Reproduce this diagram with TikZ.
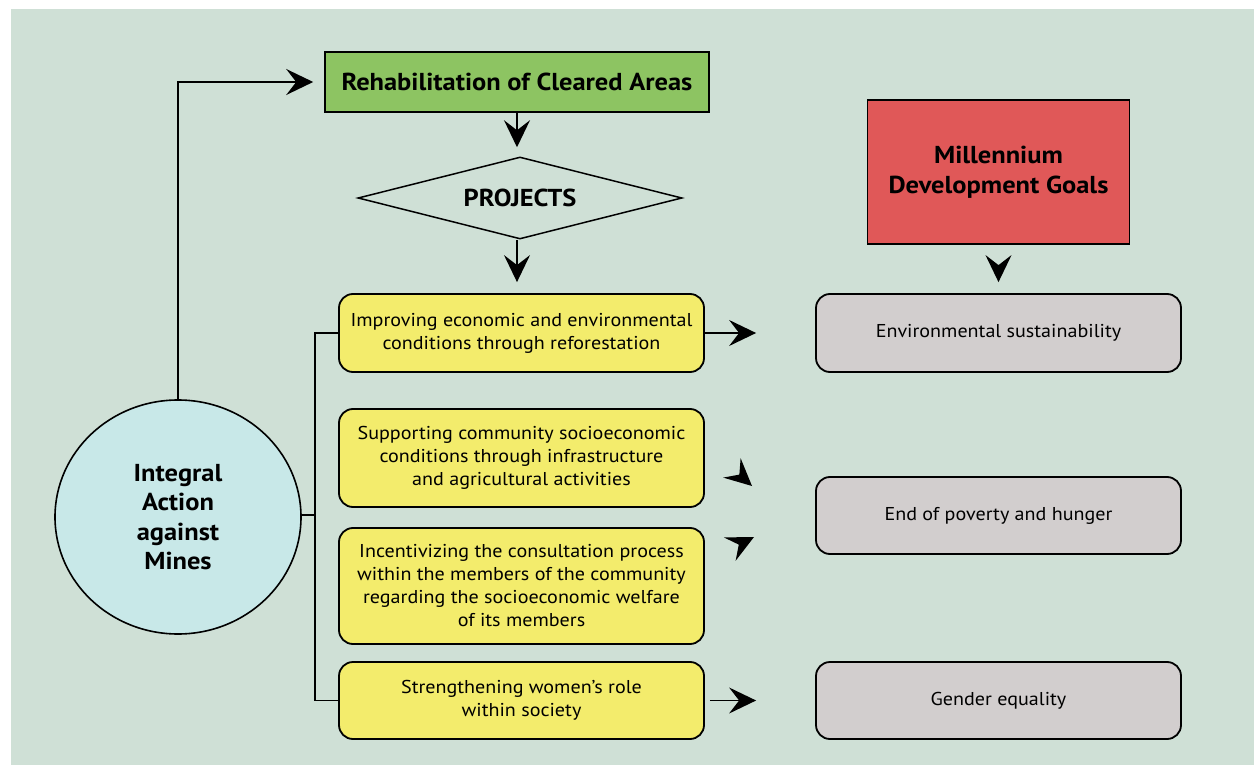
\documentclass[tikz,border=0pt]{standalone}
\usepackage{fontspec}
\setmainfont{PT Sans}[FakeStretch=1.08]
\usetikzlibrary{shapes.geometric,arrows.meta}
\definecolor{bgc}{RGB}{207,224,214}
\definecolor{greenc}{RGB}{141,196,98}
\definecolor{redc}{RGB}{224,88,88}
\definecolor{yelc}{RGB}{243,236,108}
\definecolor{greyc}{RGB}{210,206,206}
\definecolor{cyanc}{RGB}{200,232,232}
\begin{document}
\begin{tikzpicture}[x=1pt,y=-1pt,
  conn/.style={line width=1.6pt},
  head/.style={-{Stealth[length=27pt,width=26pt,inset=10pt]}, line width=1.6pt},
  bodytext/.style={font=\fontsize{18.6}{23}\selectfont},
  boldtext/.style={font=\fontsize{24.5}{30}\selectfont\bfseries},
  ybox/.style={draw, line width=1.8pt, fill=yelc, rounded corners=14pt, minimum width=365pt, inner sep=0pt, align=center, bodytext},
  gbox/.style={draw, line width=1.8pt, fill=greyc, rounded corners=14pt, minimum width=365pt, minimum height=77pt, inner sep=0pt, align=center, bodytext}
]
\useasboundingbox (0,0) rectangle (1254,765);
\fill[bgc] (11,9) rectangle (1254,765);

\node[draw, line width=1.6pt, fill=greenc, minimum width=384pt, minimum height=60pt, inner sep=0pt, boldtext] (reh) at (517,82) {Rehabilitation of Cleared Areas};
\node[diamond, draw, line width=1.5pt, minimum width=324pt, minimum height=82pt, aspect=3.9, inner sep=0pt, boldtext] (proj) at (520,198) {PROJECTS};
\node[draw, line width=1.6pt, fill=redc, minimum width=262pt, minimum height=144pt, inner sep=0pt, align=center, boldtext] (mdg) at (998.5,172) {Millennium\\Development Goals};
\node[ellipse, draw, line width=1.6pt, fill=cyanc, minimum width=246pt, minimum height=234pt, inner sep=0pt, align=center, font=\fontsize{24.5}{29.5}\selectfont\bfseries] (iam) at (178,517) {Integral\\Action\\against\\Mines};

\node[ybox, minimum height=78pt] (y1) at (521.5,333) {Improving economic and environmental\\conditions through reforestation};
\node[ybox, minimum height=98pt] (y2) at (521.5,458) {Supporting community socioeconomic\\conditions through infrastructure\\and agricultural activities};
\node[ybox, minimum height=116pt] (y3) at (521.5,586) {Incentivizing the consultation process\\within the members of the community\\regarding the socioeconomic welfare\\of its members};
\node[ybox, minimum height=77pt] (y4) at (521.5,700.5) {Strengthening women’s role\\within society};

\node[gbox, minimum height=78pt] (gA) at (998.5,333) {Environmental sustainability};
\node[gbox] (gB) at (998.5,515.5) {End of poverty and hunger};
\node[gbox] (gC) at (998.5,700.5) {Gender equality};

\coordinate (bx) at (315,515);
\coordinate (d1a) at (732,468);
\coordinate (d1b) at (752,486);
\coordinate (d2a) at (730,549);
\coordinate (d2b) at (754,537);

\draw[head, shorten >=11pt] (iam.north) |- (reh.west);
\draw[head, shorten >=9pt] (reh.south) -- (reh.south |- proj.north);
\draw[head, shorten >=11pt] (reh.south |- proj.south) -- (reh.south |- y1.north);
\draw[conn] (iam.east |- bx) -- (bx);
\draw[conn] (y1.west) -| (bx) |- (y4.west);
\draw[head, shorten >=59pt] (y1.east) -- (gA.west);
\draw[head, shorten <=5pt, shorten >=59pt] (y4.east) -- (gC.west);
\draw[head, shorten <=22pt, shorten >=11pt] (mdg.south) -- (gA.north);
\draw[head, shorten <=10pt] (d1a) -- (d1b);
\draw[head, shorten <=10pt] (d2a) -- (d2b);
\end{tikzpicture}
\end{document}
